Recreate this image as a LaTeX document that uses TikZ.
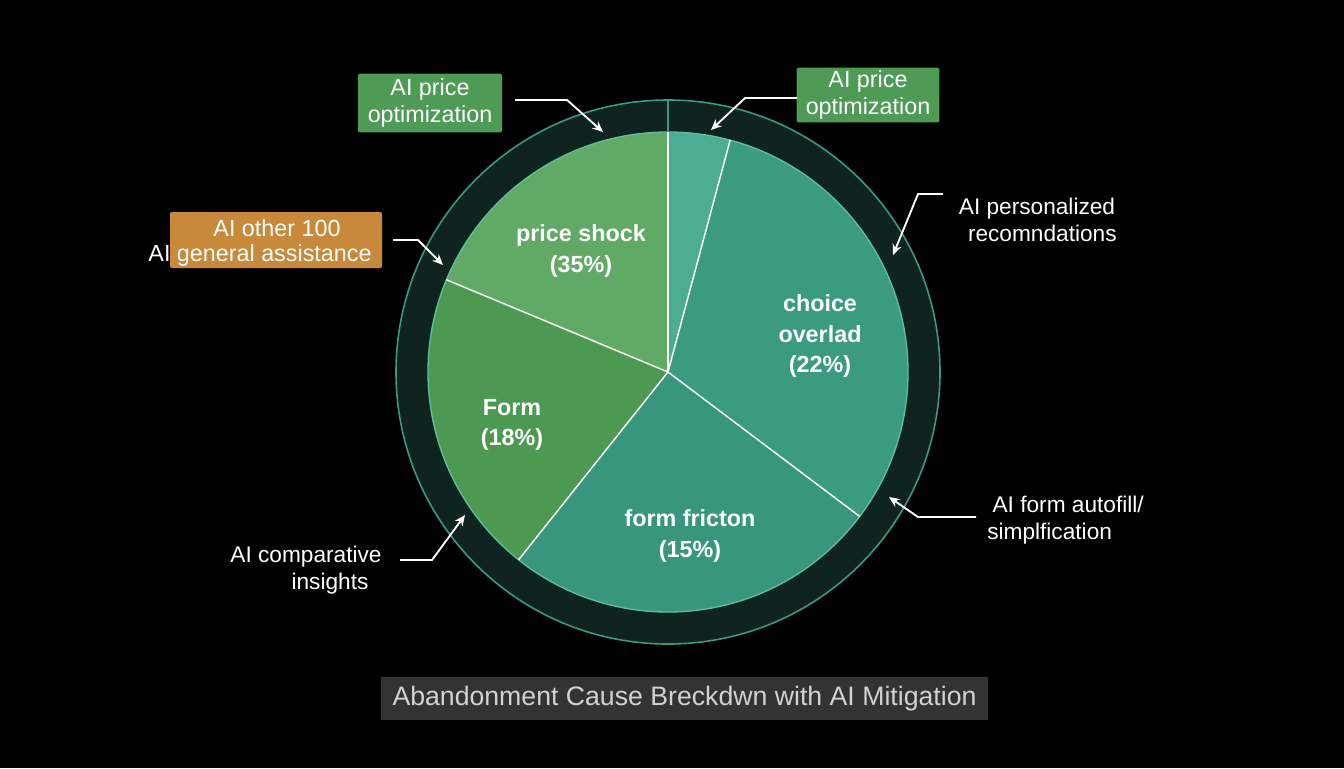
\documentclass[tikz,border=0pt]{standalone}
\usepackage{fontspec}
\setmainfont{Liberation Sans}
\usetikzlibrary{arrows.meta}
\definecolor{ringdark}{HTML}{0F241F}
\definecolor{ringedge}{HTML}{3A9A80}
\definecolor{inneredge}{HTML}{5CBFA0}
\definecolor{cpshock}{HTML}{60AA65}
\definecolor{cform}{HTML}{4C9A52}
\definecolor{cfric}{HTML}{37967D}
\definecolor{cchoice}{HTML}{3A9B81}
\definecolor{csmall}{HTML}{4DAD94}
\definecolor{boxgreen}{HTML}{4E9B56}
\definecolor{boxorange}{HTML}{C8893A}
\definecolor{titlebg}{HTML}{333333}
\definecolor{titlefg}{HTML}{D2D2D2}
\begin{document}
\begin{tikzpicture}[x=0.75pt,y=-0.75pt,
  slicelabel/.style={text=white,font=\fontsize{17.5}{23}\selectfont\bfseries,align=center,inner sep=0pt},
  calloutbox/.style={fill=#1,rounded corners=1.5pt,text=white,font=\fontsize{17.5}{20}\selectfont,align=center,inner sep=0pt},
  boxtext/.style={text=white,font=\fontsize{17.5}{20}\selectfont,inner sep=0pt},
  callouttext/.style={text=white,font=\fontsize{17}{20}\selectfont,inner sep=0pt},
  callarrow/.style={white,line width=1.4pt,-{Stealth[length=8pt,width=7pt]}},
  spoke/.style={white,line width=1.1pt}]
\useasboundingbox (0,0) rectangle (1344,768);
\fill[black] (0,0) rectangle (1344,768);
\coordinate (C) at (668,372);
% ring
\fill[ringdark,draw=ringedge,line width=1.2pt] (C) circle[radius=204pt];
% slices
\fill[csmall] (C) -- ++(75:180pt) arc[start angle=75,end angle=90,radius=180pt] -- cycle;
\fill[cchoice] (C) -- ++(-37:180pt) arc[start angle=-37,end angle=75,radius=180pt] -- cycle;
\fill[cfric] (C) -- ++(-128.5:180pt) arc[start angle=-128.5,end angle=-37,radius=180pt] -- cycle;
\fill[cform] (C) -- ++(157.4:180pt) arc[start angle=157.4,end angle=231.5,radius=180pt] -- cycle;
\fill[cpshock] (C) -- ++(90:180pt) arc[start angle=90,end angle=157.4,radius=180pt] -- cycle;
\draw[inneredge,line width=1pt] (C) circle[radius=180pt];
% spokes
\draw[spoke] (C) -- ++(90:180pt);
\draw[spoke] (C) -- ++(75:180pt);
\draw[spoke] (C) -- ++(-37:180pt);
\draw[spoke] (C) -- ++(-128.5:180pt);
\draw[spoke] (C) -- ++(157.4:180pt);
\draw[ringedge,line width=1.2pt] (C) ++(90:180pt) -- ++(90:24pt);
% slice labels
\node[slicelabel] (lshock) at (581,251) {price shock\\(35\%)};
\node[slicelabel] (lchoice) at (820,336) {choice\\overlad\\(22\%)};
\node[slicelabel] (lform) at (512,425) {Form\\(18\%)};
\node[slicelabel] (lfric) at (690,536) {form fricton\\(15\%)};
% callout boxes
\node[calloutbox=boxgreen,minimum width=108pt,minimum height=44pt] (bTL) at (430,103) {AI price\\optimization};
\node[calloutbox=boxgreen,minimum width=107pt,minimum height=41pt] (bTR) at (868,95) {AI price\\optimization};
\node[fill=boxorange,rounded corners=1.5pt,minimum width=159pt,minimum height=42pt,inner sep=0pt] (bOR) at (276,240) {};
\node[boxtext] (tOR1) at (277,228) {AI other 100};
\node[boxtext] (tOR2) at (260,255) {AI general assistance};
% free labels
\node[callouttext,align=center] (tPers) at (1037,220) {AI personalized\\\hspace*{8pt}recomndations};
\node[callouttext,align=left,anchor=west] (tAuto) at (987,520) {\hspace*{4pt}AI form autofill/\\simplfication};
\node[callouttext,align=center] (tComp) at (306,570) {AI comparative\\\hspace*{36pt}insights};
% arrow points
\coordinate (aTL0) at (515,100); \coordinate (aTL1) at (567,100); \coordinate (aTL2) at (603,132);
\coordinate (aTR0) at (797,98); \coordinate (aTR1) at (745,98); \coordinate (aTR2) at (711,130);
\coordinate (aOR0) at (393,240); \coordinate (aOR1) at (418,240); \coordinate (aOR2) at (443,265);
\coordinate (aPE0) at (943,194); \coordinate (aPE1) at (918,194); \coordinate (aPE2) at (893,255);
\coordinate (aAU0) at (976,517); \coordinate (aAU1) at (918,517); \coordinate (aAU2) at (889,497);
\coordinate (aCO0) at (400,560); \coordinate (aCO1) at (432,560); \coordinate (aCO2) at (465,515);
\draw[callarrow] (aTL0) -- (aTL1) -- (aTL2);
\draw[callarrow] (aTR0) -- (aTR1) -- (aTR2);
\draw[callarrow] (aOR0) -- (aOR1) -- (aOR2);
\draw[callarrow] (aPE0) -- (aPE1) -- (aPE2);
\draw[callarrow] (aAU0) -- (aAU1) -- (aAU2);
\draw[callarrow] (aCO0) -- (aCO1) -- (aCO2);
% title
\node[fill=titlebg,minimum width=455pt,minimum height=32pt,inner sep=0pt,text=titlefg,font=\fontsize{20}{24}\selectfont] (title) at (684.5,698.5) {Abandonment Cause Breckdwn with AI Mitigation};
\end{tikzpicture}
\end{document}
